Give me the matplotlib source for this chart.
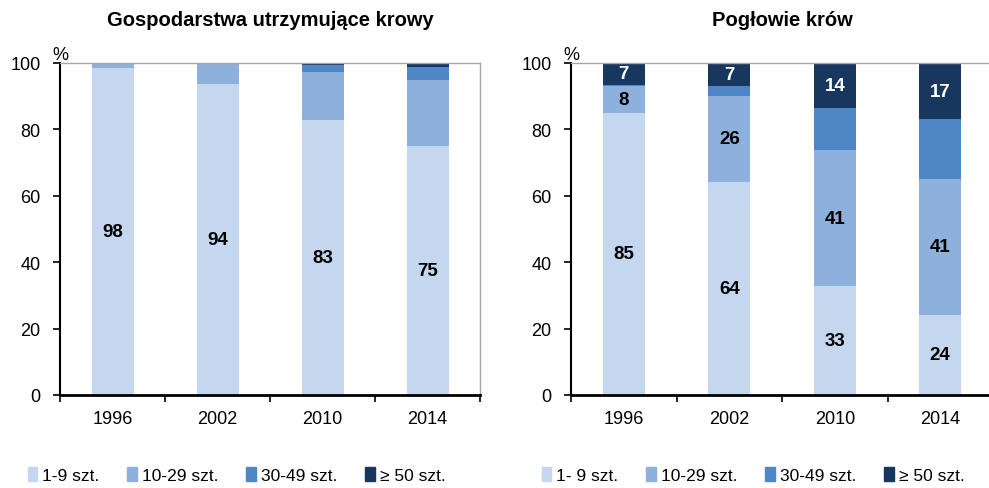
import matplotlib
matplotlib.use('Agg')
from matplotlib import pyplot as plt
from matplotlib.patches import Patch
import numpy as np

plt.rcParams['font.family'] = ['Liberation Sans', 'DejaVu Sans']

years = ['1996', '2002', '2010', '2014']
colors = ['#C5D7EE', '#8EB0DC', '#4F86C6', '#17375E']

# Gospodarstwa utrzymujące krowy (% gospodarstw)
farms_1_9 = [98.4, 93.8, 82.8, 75.0]
farms_10_29 = [1.6, 5.9, 14.6, 19.8]
farms_30_49 = [0.0, 0.0, 2.0, 4.0]
farms_50 = [0.0, 0.3, 0.6, 1.2]
farms_legend = ['1-9 szt.', '10-29 szt.', '30-49 szt.', '\u2265 50 szt.']
farms_labelled = [True, False, False, False]

# Pogłowie krów (% pogłowia)
cows_1_9 = [85.0, 64.2, 32.8, 24.2]
cows_10_29 = [8.0, 26.0, 41.0, 40.9]
cows_30_49 = [0.4, 2.8, 12.6, 18.0]
cows_50 = [6.6, 7.0, 13.6, 16.9]
cows_legend = ['1- 9 szt.', '10-29 szt.', '30-49 szt.', '\u2265 50 szt.']
cows_labelled = [True, True, False, True]


def stacked(ax, series, labelled, title):
    x = np.arange(len(years))
    bottom = np.zeros(len(years))
    for i, vals in enumerate(series):
        vals = np.array(vals)
        ax.bar(x, vals, 0.4, bottom=bottom, color=colors[i], linewidth=0)
        if labelled[i]:
            for xi, b, v in zip(x, bottom, vals):
                ax.text(xi, b + v / 2, '%d' % round(v), ha='center', va='center',
                        fontsize=13.5, fontweight='bold',
                        color='white' if i == 3 else 'black')
        bottom += vals
    ax.set_xlim(-0.5, 3.5)
    ax.set_ylim(0, 100)
    ax.set_yticks(range(0, 101, 20))
    ax.set_xticks(x)
    ax.set_xticklabels(years)
    ax.set_xticks(np.arange(-0.5, 4, 1), minor=True)
    ax.tick_params(axis='x', which='major', length=0, pad=11, labelsize=13)
    ax.tick_params(axis='x', which='minor', length=5, width=1.2, direction='out')
    ax.tick_params(axis='y', length=5, width=1.2, direction='out', labelsize=13, pad=9)
    for s in ['left', 'bottom']:
        ax.spines[s].set_color('black')
    ax.spines['left'].set_linewidth(1.5)
    ax.spines['bottom'].set_linewidth(2)
    for s in ['top', 'right']:
        ax.spines[s].set_color('#A6A6A6')
        ax.spines[s].set_linewidth(1)
    ax.text(0.0, 1.0, '%', transform=ax.transAxes, ha='center', va='bottom', fontsize=13)
    ax.set_title(title, fontsize=14.5, fontweight='bold', pad=27)


fig = plt.figure(figsize=(9.89, 4.89), dpi=100)
ax1 = fig.add_axes([60 / 989, 93 / 489, 420 / 989, 332 / 489])
ax2 = fig.add_axes([571 / 989, 93 / 489, 422 / 989, 332 / 489])

stacked(ax1, [farms_1_9, farms_10_29, farms_30_49, farms_50], farms_labelled,
        'Gospodarstwa utrzymujące krowy')
stacked(ax2, [cows_1_9, cows_10_29, cows_30_49, cows_50], cows_labelled,
        'Pogłowie krów')

for names, x0 in [(farms_legend, 12 / 989), (cows_legend, 526 / 989)]:
    handles = [Patch(color=c, label=n) for c, n in zip(colors, names)]
    fig.legend(handles=handles, loc='center left', bbox_to_anchor=(x0, 13 / 489),
               ncol=4, frameon=False, fontsize=12.5, handlelength=0.55, handleheight=0.9,
               handletextpad=0.3, columnspacing=1.6)

plt.savefig('out.png', dpi=100)
